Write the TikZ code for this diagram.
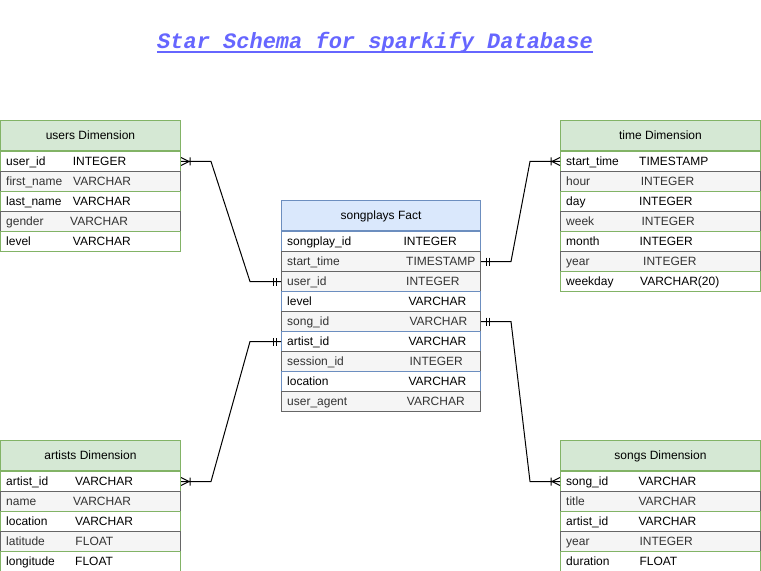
\documentclass[tikz,border=0pt]{standalone}
\usepackage{fontspec}
\setmainfont{Liberation Sans}
\newfontfamily\titlefont{Liberation Mono}
\usetikzlibrary{calc}

\definecolor{dimfill}{HTML}{D5E8D4}
\definecolor{dimline}{HTML}{82B366}
\definecolor{factfill}{HTML}{DAE8FC}
\definecolor{factline}{HTML}{6C8EBF}
\definecolor{rowfill}{HTML}{F5F5F5}
\definecolor{rowline}{HTML}{666666}
\definecolor{rowtext}{HTML}{333333}
\definecolor{titleblue}{HTML}{6666FF}

\tikzset{
  pics/erone/.style={code={\draw[conn] (5,-4) -- (5,4) (8,-4) -- (8,4);}},
  pics/ermany/.style={code={\draw[conn] (0,-4) -- (8,0) -- (0,4) (9,-4) -- (9,4);}},
}

% name, position, width, fill, line, title, rows
\newcommand{\erTable}[7]{%
  \tikzset{wr/.style={fill=white, draw=#5}, wr-text/.style={text=black}}
  \node[tabhead=#3, fill=#4, draw=#5] (#1) at (#2) {#6};
  \foreach \fname/\ftype/\fx/\fkind [count=\i] in {#7} {
    \node[tabrow=#3, \fkind] (#1-\i) at ($(#1.south west)+(0,{(\i-1)*20})$) {};
    \node[tabtext, \fkind-text] (#1-\i-n) at ($(#1-\i.west)+(6,4.3)$) {\fname};
    \node[tabtext, \fkind-text] (#1-\i-t) at ($(#1-\i.west)+(\fx,4.3)$) {\ftype};
  }
}

\begin{document}
\begin{tikzpicture}[x=1bp, y=-1bp,
    tabhead/.style={anchor=north west, minimum width=#1, minimum height=30bp, inner sep=0pt, line width=1bp, text height=8.6bp, text depth=-1.4bp, font=\fontsize{12bp}{14bp}\selectfont},
    tabrow/.style={anchor=north west, minimum width=#1, minimum height=20bp, inner sep=0pt, line width=1bp},
    tabtext/.style={anchor=base west, inner sep=0pt, font=\fontsize{12bp}{14bp}\selectfont},
    gr/.style={fill=rowfill, draw=rowline},
    gr-text/.style={text=rowtext},
    conn/.style={line width=1bp, draw=black}]
    \path[fill=white, use as bounding box] (0,0) rectangle (761,571);

    \node[anchor=base, inner sep=0pt, text=titleblue, font=\titlefont\fontsize{22bp}{26bp}\selectfont\bfseries\itshape] (title) at (375,48.5) {Star Schema for sparkify Database};
    \draw[titleblue, line width=1.5bp] ($(title.base west)+(0,3.5)$) -- ($(title.base east)+(0,3.5)$);

    \erTable{users}{0,120}{180bp}{dimfill}{dimline}{users Dimension}{%
      user\_id/INTEGER/72.7/wr, first\_name/VARCHAR/73/gr, last\_name/VARCHAR/72.7/wr,
      gender/VARCHAR/70/gr, level/VARCHAR/72.7/wr}
    \erTable{fact}{281,200}{199bp}{factfill}{factline}{songplays Fact}{%
      songplay\_id/INTEGER/122.3/wr, start\_time/TIMESTAMP/125/gr, user\_id/INTEGER/125/gr,
      level/VARCHAR/127.3/wr, song\_id/VARCHAR/128.3/gr, artist\_id/VARCHAR/127.3/wr,
      session\_id/INTEGER/128.3/gr, location/VARCHAR/127.3/wr, user\_agent/VARCHAR/125.7/gr}
    \erTable{time}{560,120}{200bp}{dimfill}{dimline}{time Dimension}{%
      start\_time/TIMESTAMP/79/wr, hour/INTEGER/80.7/gr, day/INTEGER/79/wr, week/INTEGER/81.3/gr,
      month/INTEGER/79.3/wr, year/INTEGER/83/gr, weekday/VARCHAR(20)/80/wr}
    \erTable{artists}{0,440}{180bp}{dimfill}{dimline}{artists Dimension}{%
      artist\_id/VARCHAR/75/wr, name/VARCHAR/73/gr, location/VARCHAR/75/wr,
      latitude/FLOAT/75.3/gr, longitude/FLOAT/75/wr}
    \erTable{songs}{560,440}{200bp}{dimfill}{dimline}{songs Dimension}{%
      song\_id/VARCHAR/78.3/wr, title/VARCHAR/78.3/gr, artist\_id/VARCHAR/78.3/wr,
      year/INTEGER/79.3/gr, duration/FLOAT/79.3/wr}

    \draw[conn] (users-1.east) -- ++(30,0) -- ($(fact-3.west)+(-31,0)$) -- (fact-3.west);
    \draw[conn] (fact-2.east) -- ++(30,0) -- ($(time-1.west)+(-30,0)$) -- (time-1.west);
    \draw[conn] (fact-5.east) -- ++(30,0) -- ($(songs-1.west)+(-30,0)$) -- (songs-1.west);
    \draw[conn] (fact-6.west) -- ++(-31,0) -- ($(artists-1.east)+(30,0)$) -- (artists-1.east);

    \pic at (users-1.east) {ermany};
    \pic[rotate=180] at (fact-3.west) {erone};
    \pic at (fact-2.east) {erone};
    \pic[rotate=180] at (time-1.west) {ermany};
    \pic at (fact-5.east) {erone};
    \pic[rotate=180] at (songs-1.west) {ermany};
    \pic[rotate=180] at (fact-6.west) {erone};
    \pic at (artists-1.east) {ermany};
\end{tikzpicture}
\end{document}
